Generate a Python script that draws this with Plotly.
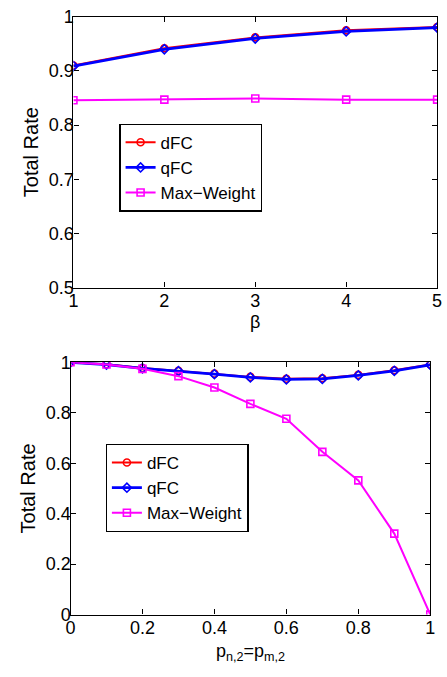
import plotly.graph_objects as go

# Panel (a): total rate versus beta
beta = [1, 2, 3, 4, 5]
dfc_beta = [0.910, 0.942, 0.962, 0.975, 0.981]
qfc_beta = [0.909, 0.940, 0.960, 0.973, 0.980]
mw_beta = [0.846, 0.847, 0.849, 0.847, 0.847]

# Panel (b): total rate versus p_{n,2} = p_{m,2}
p = [0.0, 0.1, 0.2, 0.3, 0.4, 0.5, 0.6, 0.7, 0.8, 0.9, 1.0]
dfc_p = [1.000, 0.992, 0.977, 0.966, 0.955, 0.942, 0.935, 0.937, 0.950, 0.968, 0.991]
qfc_p = [1.000, 0.991, 0.976, 0.965, 0.953, 0.940, 0.932, 0.934, 0.948, 0.966, 0.990]
mw_p = [1.000, 0.991, 0.974, 0.945, 0.900, 0.835, 0.776, 0.645, 0.532, 0.321, 0.000]

top_yticks = [0.5, 0.6, 0.7, 0.8, 0.9, 1.0]
top_yticktext = ["0.5", "0.6", "0.7", "0.8", "0.9", "1"]
bot_ticks = [0, 0.2, 0.4, 0.6, 0.8, 1.0]
bot_ticktext = ["0", "0.2", "0.4", "0.6", "0.8", "1"]

RED = "#ff0000"
BLUE = "#0000ff"
MAGENTA = "#ff00ff"
FONT = "Liberation Sans, Arial, sans-serif"
FS = 18      # tick labels
FS_T = 20    # axis titles
FS_L = 17    # legend entries
W, H = 447, 677


def series(x, y, name, color, symbol, width, xa, ya, legend):
    return go.Scatter(
        x=x, y=y, name=name, mode="lines+markers",
        line=dict(color=color, width=width),
        marker=dict(symbol=symbol, size=7, color=color,
                    line=dict(color=color, width=1.6)),
        xaxis=xa, yaxis=ya, legend=legend,
    )


fig = go.Figure()
fig.add_trace(series(beta, dfc_beta, "dFC", RED, "circle-open", 2, "x", "y", "legend"))
fig.add_trace(series(beta, qfc_beta, "qFC", BLUE, "diamond-open", 2.8, "x", "y", "legend"))
fig.add_trace(series(beta, mw_beta, "Max\u2212Weight", MAGENTA, "square-open", 2, "x", "y", "legend"))

fig.add_trace(series(p, dfc_p, "dFC", RED, "circle-open", 2, "x2", "y2", "legend2"))
fig.add_trace(series(p, qfc_p, "qFC", BLUE, "diamond-open", 2.8, "x2", "y2", "legend2"))
fig.add_trace(series(p, mw_p, "Max\u2212Weight", MAGENTA, "square-open", 2, "x2", "y2", "legend2"))

legend_style = dict(xanchor="left", yanchor="top", bgcolor="white",
                    bordercolor="black", borderwidth=1.2, itemwidth=30,
                    tracegroupgap=0, font=dict(family=FONT, size=FS_L))

fig.update_layout(
    width=W, height=H,
    margin=dict(l=0, r=0, t=0, b=0),
    paper_bgcolor="white", plot_bgcolor="white",
    font=dict(family=FONT, size=FS, color="black"),
    xaxis=dict(domain=[70 / W, 442 / W], range=[1, 5], tickvals=beta, anchor="y"),
    yaxis=dict(domain=[1 - 286 / H, 1 - 7 / H], range=[0.5, 1.0],
               tickvals=top_yticks, ticktext=top_yticktext, anchor="x",
               title=dict(text="Total Rate", standoff=4)),
    xaxis2=dict(domain=[67 / W, 435 / W], range=[0, 1], tickvals=bot_ticks,
                ticktext=bot_ticktext, anchor="y2"),
    yaxis2=dict(domain=[1 - 623 / H, 1 - 363 / H], range=[0, 1],
                tickvals=bot_ticks, ticktext=bot_ticktext, anchor="x2",
                title=dict(text="Total Rate", standoff=4)),
    legend=dict(x=117 / W, y=1 - 117 / H, **legend_style),
    legend2=dict(x=103 / W, y=1 - 447 / H, **legend_style),
)

fig.update_xaxes(showline=True, linecolor="black", linewidth=1.2, mirror="ticks",
                 ticks="inside", ticklen=5, tickwidth=1, tickcolor="black",
                 showgrid=False, zeroline=False, ticklabelstandoff=-3,
                 tickfont=dict(family=FONT, size=FS, color="black"))
fig.update_yaxes(showline=True, linecolor="black", linewidth=1.2, mirror="ticks",
                 ticks="inside", ticklen=5, tickwidth=1, tickcolor="black",
                 showgrid=False, zeroline=False, ticklabelstandoff=-5,
                 tickfont=dict(family=FONT, size=FS, color="black"),
                 title_font=dict(family=FONT, size=FS_T, color="black"))

# Axis labels below each panel
fig.add_annotation(text="\u03b2", x=(70 + 442) / 2 / W, y=1 - 321 / H,
                   xref="paper", yref="paper", showarrow=False,
                   xanchor="center", yanchor="middle",
                   font=dict(family=FONT, size=FS))
fig.add_annotation(text="p<sub>n,2</sub>=p<sub>m,2</sub>", x=(67 + 435) / 2 / W,
                   y=1 - 662 / H, xref="paper", yref="paper", showarrow=False,
                   xanchor="center", yanchor="middle",
                   font=dict(family=FONT, size=FS))

fig.write_html("out.html")
